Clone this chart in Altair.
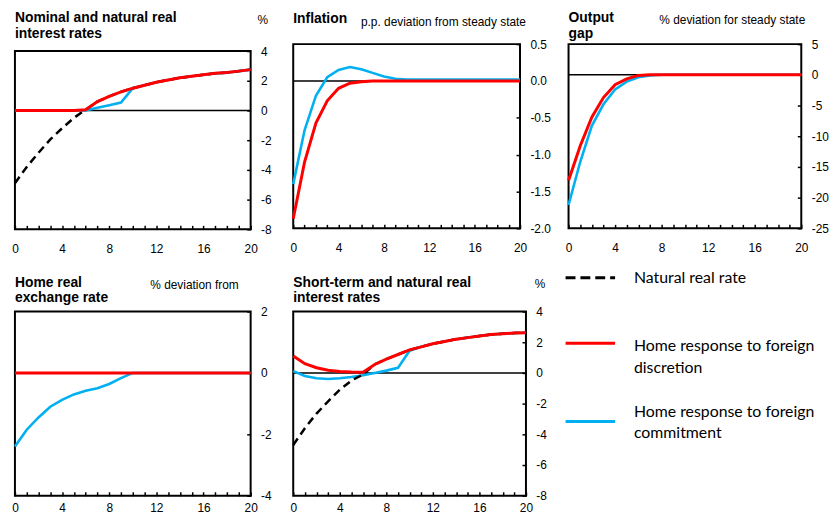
import altair as alt
import pandas as pd

FONT = "Liberation Sans"
RED = "#FF0000"
BLUE = "#00B0F0"

quarters = list(range(21))

# Panel 1: Nominal and natural real interest rates (%)
p1_natural = [-4.9, -3.8, -2.85, -1.95, -1.2, -0.5, 0.05, 0.6, 0.95, 1.25, 1.5,
              1.7, 1.9, 2.05, 2.2, 2.3, 2.4, 2.5, 2.55, 2.65, 2.75]
p1_discretion = [0, 0, 0, 0, 0, 0, 0.05, 0.6, 0.95, 1.25, 1.5,
                 1.7, 1.9, 2.05, 2.2, 2.3, 2.4, 2.5, 2.55, 2.65, 2.75]
p1_commitment = [0, 0, 0, 0, 0, 0, 0, 0.18, 0.35, 0.53, 1.5,
                 1.7, 1.9, 2.05, 2.2, 2.3, 2.4, 2.5, 2.55, 2.65, 2.75]

# Panel 2: Inflation (p.p. deviation from steady state)
p2_discretion = [-1.87, -1.1, -0.57, -0.27, -0.1, -0.03, -0.01, 0, 0, 0, 0,
                 0, 0, 0, 0, 0, 0, 0, 0, 0, 0]
p2_commitment = [-1.4, -0.67, -0.2, 0.05, 0.15, 0.19, 0.16, 0.11, 0.06, 0.03, 0.02,
                 0.02, 0.02, 0.02, 0.02, 0.02, 0.02, 0.02, 0.02, 0.02, 0.02]

# Panel 3: Output gap (% deviation for steady state)
p3_discretion = [-17.2, -11.6, -6.9, -3.7, -1.6, -0.65, -0.1, 0, 0, 0, 0,
                 0, 0, 0, 0, 0, 0, 0, 0, 0, 0]
p3_commitment = [-21.2, -14.2, -8.3, -4.8, -2.4, -1.1, -0.4, -0.1, 0, 0, 0,
                 0, 0, 0, 0, 0, 0, 0, 0, 0, 0]

# Panel 4: Home real exchange rate (% deviation from)
p4_discretion = [0] * 21
p4_commitment = [-2.4, -1.85, -1.45, -1.1, -0.88, -0.7, -0.58, -0.5, -0.36, -0.17, 0,
                 0, 0, 0, 0, 0, 0, 0, 0, 0, 0]

# Panel 5: Short-term and natural real interest rates (%)
p5_natural = [-4.7, -3.6, -2.65, -1.85, -1.1, -0.5, -0.1, 0.55, 0.9, 1.2, 1.5,
              1.7, 1.9, 2.05, 2.2, 2.3, 2.4, 2.5, 2.55, 2.6, 2.62]
p5_discretion = [1.1, 0.6, 0.34, 0.17, 0.09, 0.06, 0.05, 0.55, 0.9, 1.2, 1.5,
                 1.7, 1.9, 2.05, 2.2, 2.3, 2.4, 2.5, 2.55, 2.6, 2.62]
p5_commitment = [0.12, -0.2, -0.35, -0.4, -0.35, -0.27, -0.15, 0.0, 0.15, 0.33, 1.45,
                 1.7, 1.9, 2.05, 2.2, 2.3, 2.4, 2.5, 2.55, 2.6, 2.62]

titles = [
    ["Nominal and natural real", "interest rates"],
    ["Inflation"],
    ["Output", "gap"],
    ["Home real", "exchange rate"],
    ["Short-term and natural real", "interest rates"],
]
units = ["%", "p.p. deviation from steady state", "% deviation for steady state",
         "% deviation from", "%"]

y_ticks = [
    [-8, -6, -4, -2, 0, 2, 4],
    [-2.0, -1.5, -1.0, -0.5, 0.0, 0.5],
    [-25, -20, -15, -10, -5, 0, 5],
    [-4, -2, 0, 2],
    [-8, -6, -4, -2, 0, 2, 4],
]
y_formats = ["d", ".1f", "d", "d", "d"]

legend_labels = [
    ["Natural real rate"],
    ["Home response to foreign", "discretion"],
    ["Home response to foreign", "commitment"],
]

one = pd.DataFrame({"k": [0]})
HYPHEN = "replace(datum.label, '\u2212', '-')"


def series_df(values):
    return pd.DataFrame({"q": quarters, "v": values})


def make_panel(i, discretion, commitment, natural, ydom, w, h, xpad,
               title_y, title_lh, unit_x, unit_y, unit_align, frame=False):
    xscale = alt.Scale(domain=[0, 20], nice=False, zero=False)
    yscale = alt.Scale(domain=ydom, nice=False, zero=False)
    xaxis = alt.Axis(values=quarters,
                     labelExpr="datum.value % 4 == 0 ? datum.label : ''",
                     tickSize=4, tickWidth=1.5, tickColor="black", offset=-4,
                     domain=False, grid=False, labelPadding=xpad,
                     labelFontSize=12, labelColor="black", labelFont=FONT,
                     labelFlush=False, labelOverlap=False, title=None)
    yaxis = alt.Axis(orient="right", values=y_ticks[i], format=y_formats[i],
                     labelExpr=HYPHEN,
                     tickSize=4, tickWidth=1.5, tickColor="black", offset=-4,
                     domain=False, grid=False, labelPadding=10,
                     labelFontSize=12, labelColor="black", labelFont=FONT,
                     labelFlush=False, labelOverlap=False, title=None)

    def X(f):
        return alt.X(f, type="quantitative", scale=xscale, axis=xaxis)

    def Y(f):
        return alt.Y(f, type="quantitative", scale=yscale, axis=yaxis)

    layers = []
    if frame:
        fdf = pd.DataFrame({"x0": [0], "x1": [20], "y0": [ydom[0]], "y1": [y_ticks[i][-1]]})
        layers.append(alt.Chart(fdf).mark_rect(fill="transparent", stroke="black",
                                               strokeWidth=2)
                      .encode(x=X("x0"), x2="x1", y=Y("y0"), y2="y1"))
    layers.append(alt.Chart(pd.DataFrame({"v": [0]})).mark_rule(color="black", strokeWidth=1.5)
                  .encode(y=Y("v")))
    layers.append(alt.Chart(series_df(commitment)).mark_line(color=BLUE, strokeWidth=2.6)
                  .encode(x=X("q"), y=Y("v")))
    if natural is not None:
        layers.append(alt.Chart(series_df(natural))
                      .mark_line(color="black", strokeWidth=2.5, strokeDash=[8, 5])
                      .encode(x=X("q"), y=Y("v")))
    layers.append(alt.Chart(series_df(discretion)).mark_line(color=RED, strokeWidth=3)
                  .encode(x=X("q"), y=Y("v")))
    layers.append(alt.Chart(one).mark_text(align="left", baseline="alphabetic", font=FONT,
                                           fontSize=14, fontWeight="bold", color="black",
                                           lineHeight=title_lh)
                  .encode(x=alt.value(0), y=alt.value(title_y), text=alt.value(titles[i])))
    layers.append(alt.Chart(one).mark_text(align=unit_align, baseline="alphabetic", font=FONT,
                                           fontSize=12, color="black")
                  .encode(x=alt.value(unit_x), y=alt.value(unit_y), text=alt.value(units[i])))
    ch = alt.layer(*layers).properties(width=w, height=h)
    if frame:
        ch = ch.properties(view=alt.ViewBackground(stroke="transparent"))
    return ch


p1 = make_panel(0, p1_discretion, p1_commitment, p1_natural, [-8, 4.4667], 238, 187, 14,
                -22, 16, 245, -20, "left", frame=True)
p2 = make_panel(1, p2_discretion, p2_commitment, None, [-2.0, 0.5], 229, 186, 14,
                -21.5, 16, 235, -18, "right")
p3 = make_panel(2, p3_discretion, p3_commitment, None, [-25, 5], 235, 186, 14,
                -22, 16, 239, -20, "right")
p4 = make_panel(3, p4_discretion, p4_commitment, None, [-4, 2], 238, 186, 7,
                -25, 15.5, 226, -23, "right")
p5 = make_panel(4, p5_discretion, p5_commitment, p5_natural, [-8, 4], 235, 186, 7,
                -25, 15.5, 244, -24, "left")

# Legend panel (drawn as its own view)
leg_layers = []
leg_styles = [("black", [10, 5], -34, -34), (RED, [1, 0], 32, 35), (BLUE, [1, 0], 111, 101)]
for lab, (col, dash, ly, ty) in zip(legend_labels, leg_styles):
    leg_layers.append(alt.Chart(one).mark_rule(color=col, strokeWidth=3, strokeDash=dash)
                      .encode(x=alt.value(-3), x2=alt.value(47), y=alt.value(ly)))
    leg_layers.append(alt.Chart(one).mark_text(align="left", baseline="middle", font="Lato",
                                               fontSize=16, color="black", lineHeight=22)
                      .encode(x=alt.value(66), y=alt.value(ty), text=alt.value(lab)))
legend = alt.layer(*leg_layers).properties(width=235, height=186,
                                           view=alt.ViewBackground(stroke="transparent"))

chart = alt.concat(p1, p2, p3, p4, p5, legend, columns=3,
                   spacing={"row": 83, "column": 43}, bounds="flush", align="each")
chart = chart.properties(padding={"left": 0, "top": 0, "right": 0, "bottom": 0},
                         background="white")
chart = chart.configure_view(stroke="black", strokeWidth=2)

chart.save("out.html", embed_options={"renderer": "svg", "actions": False})
